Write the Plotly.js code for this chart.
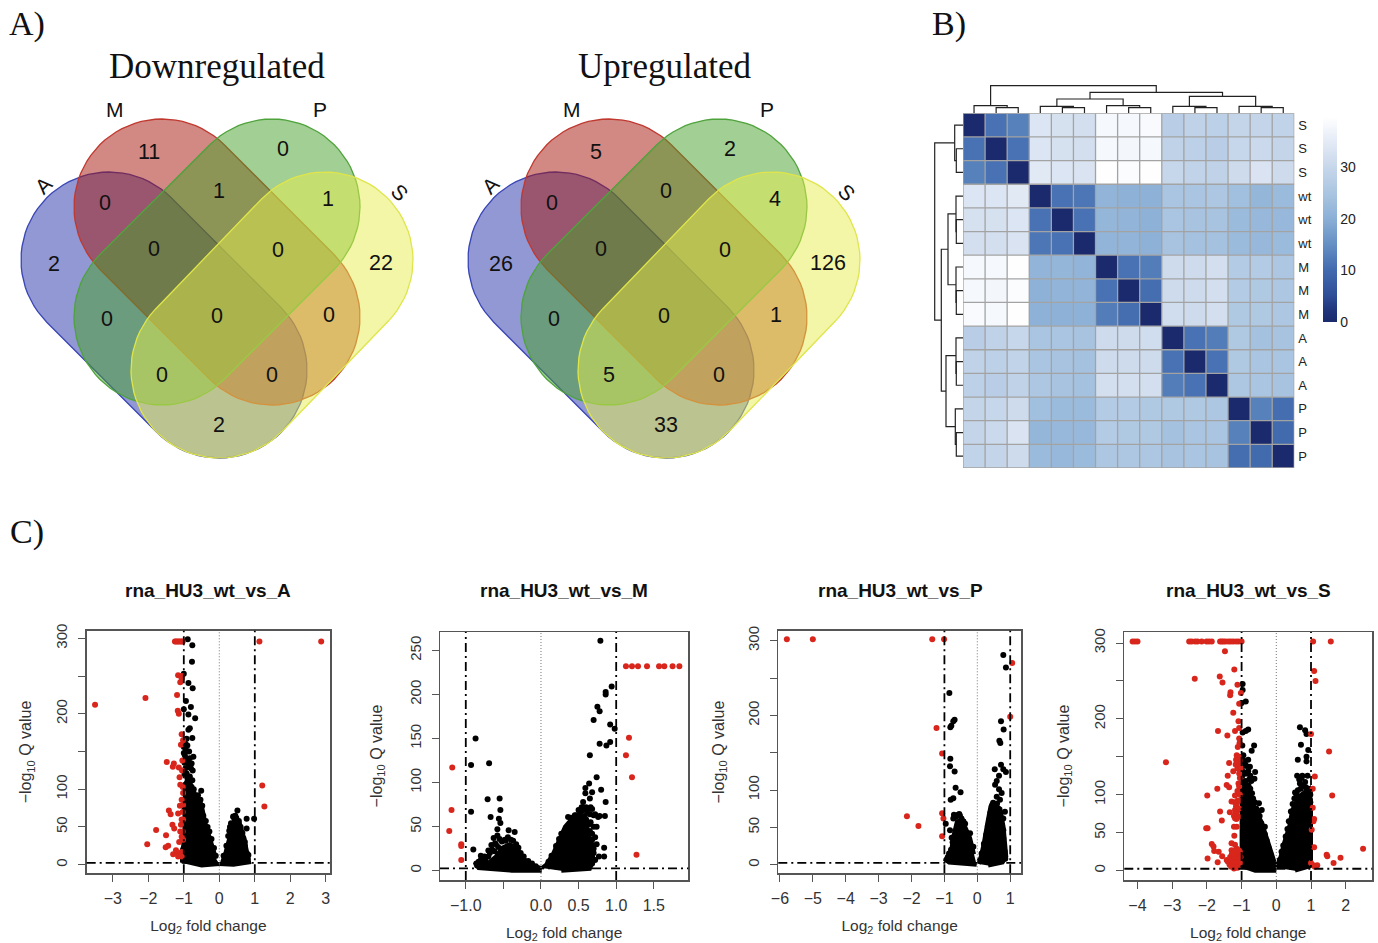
<!DOCTYPE html>
<html><head><meta charset="utf-8">
<script src="https://cdn.plot.ly/plotly-3.0.1.min.js"></script>
<style>html,body{margin:0;padding:0;background:#fff}</style></head>
<body><div id="chart" style="width:1378px;height:943px"></div>
<script>
// ---------- Data: Venn ----------
const vennSets = ['A','M','P','S'];
const vennRegions = ['A','M','P','AM','MP','PS','S','AMP','MPS','AP','AMPS','MS','APS','AMS','AS'];
const downCounts = [2,11,0,0,1,1,22,0,0,0,0,0,0,0,2];
const upCounts = [26,5,2,0,0,4,126,0,0,0,0,1,5,0,33];

// ---------- Data: sample distance heatmap ----------
const sampleLabels = ['S','S','S','wt','wt','wt','M','M','M','A','A','A','P','P','P'];
const distances = [
[0,11,13,33.5,32.5,32,38,38,38.5,27.5,28.5,28,29.5,29.5,29],
[11,0,11,33.5,32.5,32,38,37.5,38,28.5,28,27.5,30,30.5,29.5],
[13,11,0,34.5,33.5,33,39.5,39,39.5,30,29,28.5,31,33,31],
[33.5,33.5,34.5,0,11,11.5,21,20.5,20.5,25,25,25.5,23.5,21.5,22.5],
[32.5,32.5,33.5,11,0,11,21.5,21,20.5,25,24.5,24.5,22.5,22,22],
[32,32,33,11.5,11,0,21,21,20.5,24.5,24,24,22.5,22,22.5],
[38,38,39.5,21,21.5,21,0,11,12.5,31,31,32,26.5,26.5,25.5],
[38,37.5,39,20.5,21,21,11,0,10.5,31,31,32,26.5,26,25.5],
[38.5,38,39.5,20.5,20.5,20.5,12.5,10.5,0,31.5,31,32,26,26,25.5],
[27.5,28.5,30,25,25,24.5,31,31,31.5,0,11,12.5,26,24,24.5],
[28.5,28,29,25,24.5,24,31,31,31,11,0,11,26,25,25],
[28,27.5,28.5,25.5,24.5,24,32,32,32,12.5,11,0,25.5,25,24.5],
[29.5,30,31,23.5,22.5,22.5,26.5,26.5,26,26,26,25.5,0,13,10.5],
[29.5,30.5,33,21.5,22,22,26.5,26,26,24,25,25,13,0,10],
[29,29.5,31,22.5,22,22.5,25.5,25.5,25.5,24.5,25,24.5,10.5,10,0]];
// hclust-style merges: negative = leaf (1-based), positive = earlier merge (1-based)
const mergeA = [-2,-1,-5,-4,-8,-7,-11,-10,-14,-13,4,8,11,2];
const mergeB = [-3,1,-6,3,-9,5,-12,7,-15,9,6,10,12,13];
const topHeights = [5.3,7.3,5.3,6.7,5.3,7.3,5.3,6.7,5.3,6.7,14,16.7,20.7,27.3];
const leftHeights = [6.7,8.3,6.7,7,6.7,7,6.7,7,6.7,7.7,15,17,21.7,28.3];

// ---------- Data: volcano plots ----------
const titlesV = ['rna_HU3_wt_vs_A','rna_HU3_wt_vs_M','rna_HU3_wt_vs_P','rna_HU3_wt_vs_S'];
// dense clouds, as outlines [log2FC, -log10Q]
const cloudA = [
 [[0,1],[-0.5,-1],[-1.05,5],[-1.05,15],[-0.98,37],[-0.98,81],[-0.95,108],[-0.87,116],[-0.78,104],[-0.64,90],[-0.5,80],[-0.45,66],[-0.38,52],[-0.28,38],[-0.19,22],[-0.09,8]],
 [[0.08,3],[0.18,17],[0.32,42],[0.41,58],[0.56,58],[0.7,35],[0.8,13],[0.84,3],[0.4,0],[0,1]]];
const blackA = [[-0.89,299],[-0.76,291],[-0.77,269],[-1,253],[-0.87,241],[-0.75,234],[-0.94,217],[-0.8,209],[-1,206],[-0.87,199],[-0.68,194],[-0.83,181],[-0.87,179],[-0.76,168],[-0.92,167],[-1,156],[-0.94,152],[-1,148],[-0.73,143],[-0.83,141],[-0.78,134],[-0.87,130],[-0.75,125],[-0.83,117],[-0.92,121],[-0.51,98],[-0.64,88],[-0.53,86],[-0.78,103],[0.51,72],[0.77,61],[0.98,61],[0.77,48],[0.72,30],[0.82,13],[0.39,64],[0.3,50],
[-0.98,165],[-0.95,160],[-0.9,158],[-0.85,150],[-0.97,145],[-0.92,140],[-0.98,135],[-0.88,135],[-0.8,128],[-0.95,128],[-0.98,120],[-0.9,115],[-0.85,110],[-0.76,112],[-0.72,100],[-0.68,90],[-0.6,92],[-0.56,80],[-0.48,78],[-0.45,65],[-0.38,58],[-0.33,50],[-0.28,44],[-0.22,34],[-0.15,22],[-0.1,12],[-0.95,100],[-0.9,90],[-0.98,75],[-0.97,55],[-1,30],[-1.02,20],[-1.03,10],
[0.12,12],[0.2,25],[0.25,38],[0.33,55],[0.4,63],[0.45,65],[0.48,62],[0.55,58],[0.6,50],[0.65,42],[0.68,35],[0.72,25],[0.78,15],[0.8,8],[0.28,45],[0.5,55]];
const redA = [[-1.25,296],[-1.22,296],[-1.18,296],[-1.14,296],[-1.1,296],[-1.06,296],[-1.03,296],[1.13,296],[2.87,296],[-3.5,212],[-2.08,221],[-1.16,251],[-1.06,250],[-1.06,247],[-1.1,242],[-1.19,225],[-1.17,204],[-1.14,200],[-1.06,173],[-1.02,165],[-1.08,159],[-1.04,138],[-1.48,136],[-1.28,134],[-1.31,130],[-1.14,129],[-1.12,116],[-1.1,106],[-1.03,103],[-1.02,95],[-1.06,86],[-1.11,78],[-1.02,79],[1.21,105],[1.27,77],[-1.42,72],[-1.37,67],[-1.16,68],[-1.03,70],[-1.32,53],[-1.27,48],[-1.08,53],[-1.1,44],[-1.03,44],[-1.78,46],[-1.5,39],[-2.03,27],[-1.51,23],[-1.44,25],[-1.06,37],[-1.13,30],[-1.02,33],[-1.2,16],[-1.3,14],[-1.11,15],[-1.22,19],[-1.16,11],[-1.06,17],[-1.06,11],[-1.06,60],[-1.02,60],[-1.05,125]];

const cloudM = [
 [[0.01,0],[-0.39,0],[-0.83,3],[-0.86,7],[-0.7,9],[-0.6,16],[-0.52,26],[-0.42,30],[-0.32,26],[-0.26,16],[-0.19,11],[-0.08,5],[0,3]],
 [[0.01,3],[0.07,7],[0.16,19],[0.25,37],[0.32,50],[0.42,60],[0.5,63],[0.58,58],[0.64,40],[0.7,12],[0.65,2],[0.27,0]]];
const blackM = [[0.79,261],[0.94,209],[0.86,203],[0.86,200],[0.75,186],[0.78,181],[0.7,171],[0.92,166],[0.98,161],[0.78,144],[0.92,146],[0.87,142],[0.65,131],[0.74,106],[0.64,99],[0.59,94],[0.68,89],[0.8,92],[0.59,88],[0.65,82],[0.86,78],[0.85,62],[0.56,78],[0.54,72],[0.84,26],[0.84,16],[0.77,16],[0.7,25],[0.68,35],[-0.87,150],[-0.93,120],[-0.69,122],[-0.93,67],[-0.71,81],[-0.55,82],[-0.54,69],[-0.67,61],[-0.56,59],[-0.54,54],[-0.58,47],[-0.9,24],[-0.8,17],[-0.63,37],[-0.7,23],[-0.83,10],[-0.78,10],[-0.43,46],[-0.35,44],[-0.61,31],[-0.48,35],[-0.66,29],[-0.75,16],[-0.86,8],[0.7,63],[0.74,50],[0.76,61],[0.61,69],[0.47,63],[0.5,69],[0.36,61],[0.32,46],
[-0.85,6],[-0.8,12],[-0.74,12],[-0.7,16],[-0.65,24],[-0.62,22],[-0.6,30],[-0.57,27],[-0.55,36],[-0.52,33],[-0.47,34],[-0.44,38],[-0.4,35],[-0.37,34],[-0.33,30],[-0.3,26],[-0.27,20],[-0.23,16],[-0.17,11],[-0.12,8],[-0.07,5],[-0.68,20],[-0.58,40],
[0.1,10],[0.14,17],[0.2,28],[0.24,36],[0.27,42],[0.3,38],[0.33,47],[0.37,50],[0.4,60],[0.43,55],[0.45,63],[0.5,60],[0.52,65],[0.55,68],[0.58,62],[0.6,58],[0.63,52],[0.65,45],[0.68,42],[0.67,30],[0.7,20],[0.72,12],[0.68,8],[0.65,64],[0.72,64],[0.78,62],[0.6,72],[0.66,72],[0.7,50],[0.72,38],[0.74,30],[0.66,55],[0.62,66],[0.56,72],[0.68,70]];
const redM = [[1.13,232],[1.21,232],[1.29,232],[1.41,232],[1.57,232],[1.64,232],[1.75,232],[1.84,232],[1.17,151],[1.13,131],[1.21,106],[1.27,18],[-1.18,117],[-1.19,69],[-1.22,45],[-1.06,30],[-1.06,28],[-1.06,12]];

const cloudP = [
 [[-0.02,0],[-0.86,3],[-0.96,6],[-0.8,18],[-0.72,40],[-0.62,58],[-0.5,60],[-0.36,50],[-0.22,36],[-0.1,14]],
 [[0.05,1],[0.18,25],[0.3,55],[0.4,78],[0.48,82],[0.7,75],[0.8,50],[0.88,11],[0.77,3],[0.33,-1]]];
const blackP = [[0.79,281],[0.87,264],[-0.85,230],[-0.69,194],[-0.73,192],[-0.79,186],[-0.82,184],[0.72,192],[0.8,181],[0.67,166],[0.7,163],[-0.82,142],[-0.83,132],[-0.69,125],[0.72,134],[0.79,128],[0.87,124],[0.53,128],[0.66,119],[0.59,112],[0.54,107],[-0.66,103],[-0.51,97],[-0.73,89],[-0.81,87],[0.66,101],[0.74,96],[0.59,91],[0.69,87],[0.47,80],[-0.71,67],[-0.58,67],[-0.96,55],[-0.83,46],[-0.43,58],[0.84,71],[0.74,62],[0.79,46],[0.79,35],[0.79,62],[-0.86,15],[-0.93,7],
[-0.9,10],[-0.85,12],[-0.8,20],[-0.75,30],[-0.73,62],[-0.53,66],[-0.37,55],[-0.22,42],[-0.12,24],[-0.66,64],[-0.6,66],[-0.55,68],[-0.48,62],[-0.42,58],[-0.78,36],
[0.08,6],[0.13,15],[0.2,28],[0.27,40],[0.32,52],[0.36,60],[0.4,70],[0.45,80],[0.48,83],[0.53,78],[0.58,74],[0.65,70],[0.72,60],[0.75,50],[0.78,40],[0.8,28],[0.83,18],[0.85,8],[0.7,55],[0.6,82]];
const redP = [[-5.79,302],[-5,302],[-1.37,302],[-1.01,302],[-1.24,183],[-1.07,149],[-2.14,65],[-1.79,52],[-1.07,69],[-1.03,62],[-1.07,38],[1.06,270],[1,198]];

const cloudS = [
 [[0,4],[-0.12,22],[-0.28,43],[-0.42,64],[-0.57,77],[-0.71,94],[-0.81,112],[-0.95,120],[-1,112],[-1,6],[-0.61,0],[0,0]],
 [[0,4],[0.12,18],[0.22,36],[0.37,58],[0.46,80],[0.65,98],[0.95,108],[1,88],[1,6],[0.54,0]]];
const blackS = [[-0.97,246],[-0.97,238],[-0.88,223],[-1,221],[-0.81,186],[-0.88,184],[-0.97,182],[-0.64,165],[-0.98,165],[-0.71,158],[-0.81,146],[-0.95,152],[-0.76,137],[-0.61,130],[-0.63,121],[-0.81,131],[-0.9,141],[-0.85,128],[0.68,189],[0.83,185],[0.87,180],[0.71,166],[0.92,159],[0.87,150],[0.87,144],[0.62,146],[0.6,125],[0.73,122],[0.83,117],[0.54,103],[0.68,115],[0.87,106],[0.97,93],[0.97,104],[-0.33,58],[-0.42,80],[-0.5,89],
[-1,135],[-0.95,130],[-0.9,128],[-0.98,125],[-0.88,118],[-0.8,112],[-0.75,108],[-0.7,102],[-0.67,95],[-0.62,90],[-0.58,82],[-0.52,76],[-0.48,72],[-0.43,62],[-0.38,55],[-0.33,48],[-0.28,40],[-0.22,30],[-0.17,22],[-0.12,15],[-0.07,8],[-0.98,150],[-0.93,145],[-0.86,138],[-0.75,125],[-0.72,118],[-0.78,120],
[0.05,7],[0.1,14],[0.15,25],[0.2,33],[0.27,45],[0.32,55],[0.36,65],[0.42,78],[0.47,88],[0.52,95],[0.58,100],[0.62,106],[0.7,108],[0.78,112],[0.85,110],[0.92,108],[0.98,100],[0.66,120],[0.75,125],[0.9,125],[0.98,90]];
const redS = [[-4.14,302],[-4.07,302],[-4,302],[-2.51,302],[-2.44,302],[-2.34,302],[-2.27,302],[-2.15,302],[-2.01,302],[-1.94,302],[-1.86,302],[-1.62,302],[-1.57,302],[-1.52,302],[-1.46,302],[-1.38,302],[-1.31,302],[-1.24,302],[-1.16,302],[-1.09,302],[-1,302],[1.06,302],[1.57,302],[-1.48,289],[-1.21,265],[-2.35,253],[-1.63,256],[-1.55,248],[-1.12,245],[-1.32,235],[-1.33,231],[-1.02,234],[-1.07,220],[-1.24,208],[-1.09,197],[-1.68,184],[-1.41,178],[-1.19,184],[-1.07,188],[-1.07,174],[-1.11,163],[-1.14,152],[-1.16,146],[-3.18,143],[-1.36,142],[-1.09,139],[-1.24,131],[-1.4,125],[-1.43,113],[-1.36,110],[-1.7,108],[-1.99,99],[-1.09,115],[-1.19,99],[-1.07,111],[-1.29,91],[-1.14,89],[-1.62,78],[-1.34,77],[-1.57,66],[-1.19,80],[-1.09,71],[-1.19,69],[-1.14,58],[-1.98,56],[-2.02,56],[-1.22,58],[-1.21,46],[-1.86,35],[-1.81,32],[-1.79,26],[-1.66,25],[-1.56,19],[-1.98,16],[-1.69,11],[-1.43,14],[-1.29,36],[-1.19,34],[-1.29,27],[-1.14,29],[-1.33,18],[-1.24,23],[-1.09,21],[-1.19,14],[-1.29,10],[-1.14,7],[-1.07,14],[-1.05,25],[1.09,263],[1.13,250],[1,180],[1.52,157],[1.11,124],[1.05,108],[1.61,99],[1.05,83],[1.09,68],[1.07,65],[1.02,54],[1.09,31],[1.45,21],[1.47,19],[1.85,17],[1.65,10],[2.5,29],[1,10],[1.07,7],[1.18,7],[1.11,5],
[-1.4,12],[-1.35,8],[-1.3,15],[-1.25,10],[-1.2,6],[-1.15,12],[-1.1,8],[-1.05,10],[-1.25,20],[-1.2,18],[-1.15,22],[-1.1,17],[-1.3,5],[-1.22,3],[-1.12,4],[-1.28,22],[-1.18,27],[-1.08,27],[-1.03,18],[-1.16,85],[-1.2,90],[-1.12,92],[-1.18,75],[-1.13,78],[-1.08,82],[-1.22,72],[-1.15,68],[-1.07,92],[-1.05,100],[-1.12,105],[-1.05,122],[-1.07,128],[-1.12,135],[-1.17,140],[-1.05,145],[-1.09,150],[-1.03,135],[-1.06,168]];

const xTicksA = [-3,-2,-1,0,1,2,3];
const xTicksM = [-1,0,0.5,1,1.5];
const xMinorM = [-0.5];
const xTextM = ['\u22121.0','0.0','0.5','1.0','1.5'];
const xTicksP = [-6,-5,-4,-3,-2,-1,0,1];
const xTicksS = [-4,-3,-2,-1,0,1,2];
const yTicksA = [0,50,100,200,300];
const yMinorA = [150,250];
const yTicksM = [0,50,100,150,200,250];

// ---------- Layout geometry (pixels) ----------
const W = 1378, H = 943;
const sans = 'Liberation Sans, Arial, sans-serif', serif = 'Liberation Serif, serif';
const px = (l,r)=>[l/W,r/W], py = (t,b)=>[1-b/H,1-t/H];
const traces = [], shapes = [], annotations = [];
const layout = {width:W,height:H,margin:{l:0,r:0,t:0,b:0},paper_bgcolor:'#fff',plot_bgcolor:'rgba(0,0,0,0)',showlegend:false,hovermode:false,
  xaxis:{domain:[0,1],range:[0,W],visible:false,fixedrange:true},
  yaxis:{domain:[0,1],range:[H,0],visible:false,fixedrange:true}};
const label = (x,y,text,size,extra)=>annotations.push(Object.assign({xref:'x',yref:'y',x,y,text,showarrow:false,xanchor:'center',yanchor:'middle',font:{family:sans,size,color:'#111'}},extra||{}));

// ---------- Venn capsules ----------
const capRadius = 88;
const capFrom = [[109,260],[162,207],[272,207],[325,260]];
const capTo = [[219,370],[272,317],[162,317],[219,370]];
const capFill = ['rgba(35,49,169,0.5)','rgba(165,20,9,0.5)','rgba(69,159,39,0.5)','rgba(229,237,77,0.5)'];
const capLine = ['#3a46b4','#c0392f','#4fa33c','#dfe54a'];
const regionPos = [[54,264],[149,152],[283,149],[105,203],[219,191],[328,199],[381,263],[154,249],[278,250],[107,319],[217,316],[329,315],[162,375],[272,375],[219,425]];
function capsule(c1,c2,r,dx){
  const t = Math.atan2(c2[1]-c1[1],c2[0]-c1[0]), X=[], Y=[];
  for(let i=0;i<=40;i++){const a=t-Math.PI/2+Math.PI*i/40;X.push(c2[0]+dx+r*Math.cos(a));Y.push(c2[1]+r*Math.sin(a));}
  for(let i=0;i<=40;i++){const a=t+Math.PI/2+Math.PI*i/40;X.push(c1[0]+dx+r*Math.cos(a));Y.push(c1[1]+r*Math.sin(a));}
  X.push(X[0]);Y.push(Y[0]);
  return {x:X,y:Y};
}
[[0,downCounts,'Downregulated',217],[447,upCounts,'Upregulated',664]].forEach(([dx,counts,title,tx])=>{
  vennSets.forEach((s,i)=>{
    const p = capsule(capFrom[i],capTo[i],capRadius,dx);
    traces.push({type:'scatter',mode:'lines',x:p.x,y:p.y,fill:'toself',fillcolor:capFill[i],line:{color:capLine[i],width:1.3},xaxis:'x',yaxis:'y',name:s});
  });
  counts.forEach((c,i)=>label(regionPos[i][0]+dx,regionPos[i][1],String(c),21.5));
  label(tx,66,title,34,{font:{family:serif,size:35,color:'#111'}});
  label(43+dx,185,'A',21,{textangle:-45});
  label(115+dx+(dx?10:0),109,'M',21);
  label(320+dx,109,'P',21);
  label(400+dx,192,'S',21,{textangle:45});
});
label(27,24,'A)',34,{font:{family:serif,size:34,color:'#111'}});
label(949,24,'B)',34,{font:{family:serif,size:34,color:'#111'}});
label(27,532,'C)',34,{font:{family:serif,size:34,color:'#111'}});

// ---------- Heatmap ----------
const blues = [[0,'#1a2a6c'],[0.06,'#21367c'],[0.13,'#2e4e98'],[0.25,'#416aae'],[0.38,'#6590c4'],[0.5,'#8aafd6'],[0.62,'#a8c4e0'],[0.75,'#c6d6ea'],[0.88,'#e4ebf6'],[1,'#ffffff']];
traces.push({type:'heatmap',z:distances,x:sampleLabels.map((_,i)=>i),y:sampleLabels.map((_,i)=>i),xaxis:'x2',yaxis:'y2',colorscale:blues,zmin:0,zmax:39.7,
  colorbar:{thicknessmode:'pixels',thickness:14,lenmode:'pixels',len:205,x:1322.7/W,xanchor:'left',y:1-322/H,yanchor:'bottom',xpad:0,ypad:0,outlinewidth:0,borderwidth:0,tickvals:[0,10,20,30],ticks:'',ticklabelposition:'outside',tickfont:{family:sans,size:14,color:'#222'}}});
layout.xaxis2 = {domain:px(963,1294.3),anchor:'y2',range:[-0.5,14.5],showticklabels:false,ticks:'',showgrid:false,zeroline:false,fixedrange:true};
layout.yaxis2 = {domain:py(113.3,468),anchor:'x2',side:'right',range:[14.5,-0.5],tickvals:sampleLabels.map((_,i)=>i),ticktext:sampleLabels,ticks:'',ticklabelstandoff:3,showgrid:false,zeroline:false,tickfont:{family:sans,size:13,color:'#222'},fixedrange:true};
for(let i=0;i<=15;i++){
  shapes.push({type:'line',xref:'x2',yref:'y2',x0:i-0.5,x1:i-0.5,y0:-0.5,y1:14.5,line:{color:'#a3a3a3',width:1.3}});
  shapes.push({type:'line',xref:'x2',yref:'y2',y0:i-0.5,y1:i-0.5,x0:-0.5,x1:14.5,line:{color:'#a3a3a3',width:1.3}});
}
// dendrograms
function dendro(heights){
  const pos=[],hgt=[],X=[],H2=[];
  mergeA.forEach((a,i)=>{
    const b=mergeB[i];
    const g=k=>k<0?[-k-1,0]:[pos[k-1],hgt[k-1]];
    const [pa,ha]=g(a),[pb,hb]=g(b),h=heights[i];
    X.push(pa,pa,pb,pb,null);H2.push(ha,h,h,hb,null);
    pos.push((pa+pb)/2);hgt.push(h);
  });
  return {pos:X,h:H2};
}
const dTop=dendro(topHeights), dLeft=dendro(leftHeights);
traces.push({type:'scatter',mode:'lines',x:dTop.pos,y:dTop.h,xaxis:'x3',yaxis:'y3',line:{color:'#222',width:1.2},connectgaps:false});
traces.push({type:'scatter',mode:'lines',x:dLeft.h,y:dLeft.pos,xaxis:'x4',yaxis:'y4',line:{color:'#222',width:1.2},connectgaps:false});
layout.xaxis3={domain:px(963,1294.3),anchor:'y3',range:[-0.5,14.5],visible:false,fixedrange:true};
layout.yaxis3={domain:py(80,113),anchor:'x3',range:[0,33],visible:false,fixedrange:true};
layout.xaxis4={domain:px(925,963),anchor:'y4',range:[38,0],visible:false,fixedrange:true};
layout.yaxis4={domain:py(113.3,468),anchor:'x4',range:[14.5,-0.5],visible:false,fixedrange:true};

// ---------- Volcano panels ----------
const panels = [
 {cloud:cloudA,black:blackA,red:redA,box:[86.7,330,630.7,873.3],xr:[-3.735,3.118],yr:[-11.4,310.2],xt:xTicksA,yt:yTicksA,ym:yMinorA,tx:208,ys:17,xs:14},
 {cloud:cloudM,black:blackM,red:redM,box:[440,688.3,632,880],xr:[-1.343,1.959],yr:[-10.6,271],xt:xTicksM,xtx:xTextM,xm:xMinorM,yt:yTicksM,tx:564,ys:20,xs:19},
 {cloud:cloudP,black:blackP,red:redP,box:[778.3,1021,630.7,873.3],xr:[-6.05,1.328],yr:[-11.5,313.4],xt:xTicksP,yt:yTicksA,ym:yMinorA,tx:900,ys:16,xs:14},
 {cloud:cloudS,black:blackS,red:redS,box:[1124.3,1372.3,632,880],xr:[-4.38,2.766],yr:[-12.3,314.5],xt:xTicksS,yt:yTicksA,ym:yMinorA,tx:1248,ys:17,xs:19}];
panels.forEach((p,i)=>{
  const n=i+5, xa='x'+n, ya='y'+n, [l,r,t,b]=p.box;
  const axisBase={showline:true,mirror:true,linecolor:'#555',linewidth:1.5,ticks:'outside',ticklen:7,tickwidth:1,tickcolor:'#555',showgrid:false,zeroline:false,fixedrange:true};
  const minor=v=>v?{tickmode:'array',tickvals:v,ticks:'outside',ticklen:7,tickwidth:1,tickcolor:'#555',showgrid:false}:undefined;
  layout['xaxis'+n]=Object.assign({},axisBase,{domain:px(l,r),anchor:ya,range:p.xr,tickmode:'array',tickvals:p.xt,ticktext:p.xtx||p.xt.map(v=>v<0?'\u2212'+(-v):String(v)),ticklabelstandoff:3,tickfont:{family:sans,size:16,color:'#333'},
    title:{text:'Log<sub>2</sub> fold change',font:{family:sans,size:15.5,color:'#333'},standoff:p.xs}});
  if(p.xm) layout['xaxis'+n].minor=minor(p.xm);
  layout['yaxis'+n]=Object.assign({},axisBase,{domain:py(t,b),anchor:xa,range:p.yr,tickmode:'array',tickvals:p.yt,ticktext:p.yt.map(String),tickangle:-90,ticklabelstandoff:5,tickfont:{family:sans,size:15,color:'#333'},
    title:{text:'\u2212log<sub>10</sub> Q value',font:{family:sans,size:16,color:'#333'},standoff:p.ys}});
  if(p.ym) layout['yaxis'+n].minor=minor(p.ym);
  p.cloud.forEach(c=>traces.push({type:'scatter',mode:'lines',x:c.map(d=>d[0]),y:c.map(d=>d[1]),fill:'toself',fillcolor:'#000',line:{color:'#000',width:4},xaxis:xa,yaxis:ya}));
  traces.push({type:'scatter',mode:'markers',x:p.black.map(d=>d[0]),y:p.black.map(d=>d[1]),marker:{color:'#000',size:6},xaxis:xa,yaxis:ya});
  traces.push({type:'scatter',mode:'markers',x:p.red.map(d=>d[0]),y:p.red.map(d=>d[1]),marker:{color:'#d8261c',size:6},xaxis:xa,yaxis:ya});
  const dash='9px,4px,2px,4px';
  [-1,1].forEach(v=>shapes.push({type:'line',xref:xa,yref:ya+' domain',x0:v,x1:v,y0:0,y1:1,line:{color:'#000',width:1.8,dash}}));
  shapes.push({type:'line',xref:xa+' domain',yref:ya,x0:0,x1:1,y0:2.5,y1:2.5,line:{color:'#000',width:1.8,dash}});
  shapes.push({type:'line',xref:xa,yref:ya+' domain',x0:0,x1:0,y0:0,y1:1,line:{color:'#777',width:1,dash:'1px,2px'}});
  label(p.tx,590,'<b>'+titlesV[i]+'</b>',19);
});
layout.shapes=shapes; layout.annotations=annotations;
Plotly.newPlot('chart',traces,layout,{staticPlot:true,displayModeBar:false});
</script></body></html>
